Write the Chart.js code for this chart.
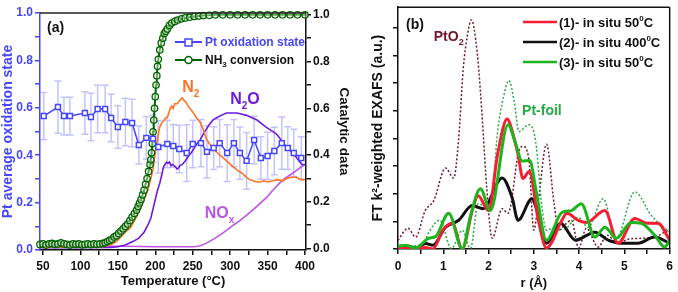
<!DOCTYPE html>
<html>
<head>
<meta charset="utf-8">
<title>Pt oxidation state and EXAFS</title>
<script src="https://cdn.jsdelivr.net/npm/chart.js"></script>
<style>
    body { margin: 0; background: #fff; }
    #left { position: absolute; left: 0; top: 0; }
    #right { position: absolute; left: 360px; top: 0; }
</style>
</head>
<body>
<canvas id="left" width="360" height="292"></canvas>
<canvas id="right" width="318" height="292"></canvas>
<script>
    // ---- panel (a) data ----
    const tempTicks = [50, 75, 100, 125, 150, 175, 200, 225, 250, 275, 300, 325, 350, 375, 400];
    const fracTicks = [0, 0.1, 0.2, 0.3, 0.4, 0.5, 0.6, 0.7, 0.8, 0.9, 1.0];

    const ptT = [51, 70, 78, 86, 106, 114, 123, 133, 141, 150, 160, 169, 178, 188, 197, 204, 216, 224, 232, 242, 250, 261, 269, 278, 286, 296, 305, 313, 322, 332, 341, 350, 359, 369, 377, 385, 395];
    const ptV = [.565, .603, .565, .565, .578, .561, .595, .595, .557, .519, .540, .536, .443, .473, .47, .435, .447, .439, .426, .409, .447, .451, .414, .43, .451, .409, .451, .409, .376, .464, .388, .397, .418, .451, .43, .409, .388];
    const ptErr = [.10, .11, .08, .08, .09, .10, .10, .10, .10, .09, .10, .10, .08, .09, .10, .11, .10, .09, .10, .12, .10, .10, .11, .09, .10, .12, .10, .11, .12, .10, .09, .10, .10, .11, .09, .10, .09];

    const nh3T = [46, 50, 54, 58, 62, 66, 70, 74, 78, 82, 86, 90, 94, 98, 102, 106, 110, 114, 118, 122, 126, 130, 133, 136, 139, 142, 145, 148, 151, 154, 157, 160, 163, 166, 169, 172, 175, 177, 179, 181, 183, 185, 187, 189, 191, 193, 194, 195, 196, 197, 198, 199, 200, 201, 202, 203, 204, 206, 208, 210, 212, 214, 216, 219, 222, 226, 230, 235, 240, 246, 252, 258, 264, 272, 280, 290, 300, 310, 320, 330, 340, 350, 360, 370, 380, 390, 400];
    const nh3V = [.018, .02, .015, .02, .022, .018, .02, .025, .02, .018, .015, .02, .018, .02, .016, .018, .02, .017, .02, .018, .02, .022, .025, .03, .035, .04, .05, .055, .065, .075, .085, .095, .105, .12, .135, .15, .165, .18, .195, .21, .23, .25, .275, .30, .33, .36, .38, .41, .45, .50, .55, .60, .65, .70, .74, .78, .81, .85, .88, .90, .92, .93, .94, .955, .965, .972, .978, .983, .987, .99, .993, .995, .997, .998, 1.0, 1.0, 1.0, 1.0, 1.0, 1.0, 1.0, 1.0, 1.0, 1.0, 1.0, 1.0, 1.0];

    const n2T = [46, 60, 80, 95, 110, 120, 130, 140, 148, 154, 160, 167, 174, 181, 186, 190, 194, 197, 199, 201, 204, 206, 209, 212, 214, 216, 218, 220, 222, 224, 226, 229, 232, 234, 236, 238, 240, 242, 246, 250, 255, 260, 264, 268, 272, 277, 283, 290, 297, 304, 310, 317, 322, 326, 331, 336, 340, 345, 350, 357, 363, 370, 376, 382, 389, 394, 400];
    const n2V = [.005, .007, .006, .008, .006, .007, .008, .015, .03, .05, .07, .09, .13, .18, .22, .25, .30, .34, .39, .43, .49, .52, .54, .55, .56, .56, .58, .60, .61, .60, .62, .62, .63, .64, .645, .635, .63, .62, .60, .585, .56, .54, .51, .47, .45, .43, .41, .39, .37, .35, .335, .32, .305, .295, .29, .285, .285, .29, .285, .29, .295, .29, .30, .305, .305, .295, .295];

    const n2oT = [46, 100, 140, 150, 160, 170, 178, 185, 190, 194, 197, 200, 203, 206, 209, 211, 213, 215, 217, 219, 221, 223, 225, 227, 229, 231, 233, 236, 240, 244, 248, 252, 256, 260, 264, 268, 272, 277, 282, 288, 295, 302, 309, 316, 322, 329, 336, 342, 348, 355, 362, 368, 374, 380, 386, 392, 396, 400];
    const n2oV = [.004, .004, .005, .008, .015, .03, .045, .07, .10, .13, .17, .21, .25, .28, .32, .35, .36, .37, .365, .37, .355, .36, .355, .35, .34, .345, .355, .36, .375, .395, .41, .43, .45, .465, .49, .51, .53, .55, .56, .57, .58, .58, .58, .575, .57, .56, .55, .535, .52, .505, .49, .465, .44, .42, .40, .375, .36, .36];

    const noxT = [46, 80, 120, 160, 200, 230, 250, 258, 265, 272, 280, 288, 296, 304, 313, 321, 330, 339, 349, 357, 366, 373, 380, 387, 393, 400];
    const noxV = [.01, .012, .01, .01, .008, .008, .008, .01, .018, .03, .045, .062, .08, .10, .12, .14, .165, .19, .22, .25, .28, .30, .315, .33, .345, .36];

    // ---- panel (b) data ----
    const rTicks = [0, 0.5, 1, 1.5, 2, 2.5, 3, 3.5, 4, 4.5, 5, 5.5, 6];
    const ftTicks = [0, 1, 2, 3, 4, 5, 6, 7, 8];

    const pto2R = [0, 0.22, 0.39, 0.6, 0.79, 1.05, 1.23, 1.34, 1.44, 1.53, 1.62, 1.75, 1.82, 1.88, 1.96, 2.08, 2.3, 2.43, 2.69, 2.76, 2.89, 3.0, 3.1, 3.28, 3.45, 3.55, 3.7, 3.83, 3.99, 4.16, 4.42, 4.62, 4.85, 5.1, 5.4, 5.7, 6.0];
    const pto2V = [0.32, 0.75, 0.43, 1.39, 1.75, 2.93, 2.57, 4.0, 6.5, 7.7, 8.29, 7.1, 5.7, 4.25, 2.2, 0.39, 1.46, 1.29, 3.64, 3.71, 3.25, 0.68, 1.75, 3.79, 1.6, 0.68, 0.9, 1.04, 0.04, 0.75, 0.07, 0.5, 0.21, 0.36, 0.39, 0.46, 0.71];

    const foilR = [0, 0.3, 0.55, 0.68, 0.92, 1.18, 1.42, 1.6, 1.77, 1.9, 2.04, 2.2, 2.33, 2.45, 2.57, 2.67, 2.89, 3.04, 3.18, 3.28, 3.48, 3.65, 3.98, 4.2, 4.53, 4.82, 5.23, 5.6, 6.0];
    const foilV = [0.05, 0.1, 0.2, 0.6, 1.04, 0.02, 0.68, 0.02, 1.64, 1.55, 1.4, 4.25, 5.5, 6.1, 5.3, 4.25, 4.5, 3.9, 1.5, 0.68, 0.79, 0.7, 1.14, 0.79, 1.82, 0.39, 2.07, 1.2, 0.6];

    const s1R = [0, 0.18, 0.39, 0.6, 0.77, 0.99, 1.2, 1.42, 1.64, 1.77, 2.0, 2.2, 2.41, 2.55, 2.65, 2.76, 2.9, 3.1, 3.28, 3.62, 3.73, 3.98, 4.16, 4.57, 4.86, 5.23, 5.52, 5.74, 6.0];
    const s1V = [0.02, 0.05, 0.0, 0.05, 0.0, 0.68, 0.93, 0.0, 1.39, 1.93, 1.39, 3.43, 4.7, 4.1, 3.43, 2.55, 2.8, 1.04, 0.04, 1.04, 1.29, 1.04, 0.96, 1.39, 0.21, 1.1, 0.93, 0.93, 0.32];

    const s2R = [0, 0.18, 0.39, 0.61, 0.77, 1.05, 1.34, 1.64, 1.88, 2.3, 2.52, 2.65, 2.96, 3.07, 3.28, 3.59, 3.92, 4.35, 4.64, 4.93, 5.3, 5.67, 6.0];
    const s2V = [0.0, 0.1, 0.04, 0.2, 0.14, 0.79, 1.04, 1.57, 1.46, 2.57, 1.86, 1.04, 1.82, 1.39, 0.21, 0.93, 0.32, 0.61, 0.32, 0.21, 0.21, 0.43, 0.21];

    const s3R = [0, 0.18, 0.39, 0.68, 0.83, 1.12, 1.42, 1.6, 1.82, 2.04, 2.43, 2.6, 2.74, 2.91, 3.04, 3.28, 3.62, 3.83, 4.05, 4.35, 4.57, 4.82, 5.15, 5.37, 5.67, 5.89, 6.0];
    const s3V = [0.1, 0.14, 0.04, 0.39, 0.45, 1.29, 0.0, 1.2, 2.18, 1.39, 4.5, 3.8, 3.18, 3.2, 2.2, 0.32, 1.32, 1.39, 1.64, 0.43, 0.79, 0.39, 0.96, 0.93, 0.5, 0.07, 0.32];

    const FONT = "'Liberation Sans', Arial, sans-serif";
    const BLUE = 'rgb(70,70,255)';
    const DKGREEN = 'rgb(0,100,0)';
    const ORANGE = 'rgb(255,115,35)';
    const PURPLE = 'rgb(110,25,220)';
    const MAGENTA = 'rgb(190,85,230)';
    const INK = '#111';

    Chart.defaults.font.family = FONT;
    Chart.defaults.font.weight = 'bold';

    const pts = (xs, ys) => xs.map((x, i) => ({x: x, y: ys[i]}));
    const asTicks = arr => arr.map(v => ({value: v}));

    // draws a string built of pieces: [text, size, dy]
    function drawText(ctx, x, y, parts, color) {
        ctx.save();
        ctx.fillStyle = color;
        ctx.textBaseline = 'alphabetic';
        ctx.textAlign = 'left';
        parts.forEach(p => {
            ctx.font = 'bold ' + p[1] + 'px ' + FONT;
            ctx.fillText(p[0], x, y + (p[2] || 0));
            x += ctx.measureText(p[0]).width;
        });
        ctx.restore();
    }

    function line(ctx, x1, y1, x2, y2, color, w, dash) {
        ctx.save();
        ctx.strokeStyle = color;
        ctx.lineWidth = w;
        ctx.setLineDash(dash || []);
        ctx.beginPath();
        ctx.moveTo(x1, y1);
        ctx.lineTo(x2, y2);
        ctx.stroke();
        ctx.restore();
    }

    const errorBars = {
        id: 'errorBars',
        beforeDatasetsDraw(chart) {
            const ctx = chart.ctx;
            const y = chart.scales.y;
            const meta = chart.getDatasetMeta(0);
            ctx.save();
            ctx.strokeStyle = 'rgba(135,135,255,0.5)';
            ctx.lineWidth = 1.5;
            meta.data.forEach((p, i) => {
                const top = y.getPixelForValue(ptV[i] + ptErr[i]);
                const bot = y.getPixelForValue(ptV[i] - ptErr[i]);
                ctx.beginPath();
                ctx.moveTo(p.x, top); ctx.lineTo(p.x, bot);
                ctx.moveTo(p.x - 3.5, top); ctx.lineTo(p.x + 3.5, top);
                ctx.moveTo(p.x - 3.5, bot); ctx.lineTo(p.x + 3.5, bot);
                ctx.stroke();
            });
            ctx.restore();
        }
    };

    const leftDecor = {
        id: 'leftDecor',
        afterDraw(chart) {
            const ctx = chart.ctx;
            const a = chart.chartArea;
            const x = chart.scales.x, y2 = chart.scales.y2;
            line(ctx, a.left, a.top, a.right, a.top, '#222', 1.5);

            drawText(ctx, a.left + 7, a.top + 19, [['(a)', 14]], INK);

            // legend
            line(ctx, 175, 42, 202, 42, BLUE, 2);
            ctx.save();
            ctx.fillStyle = '#fff'; ctx.strokeStyle = BLUE; ctx.lineWidth = 1.5;
            ctx.fillRect(185, 39, 7, 7); ctx.strokeRect(185, 39, 7, 7);
            ctx.restore();
            drawText(ctx, 205, 46, [['Pt oxidation state', 12]], BLUE);

            line(ctx, 175, 60, 202, 60, DKGREEN, 2);
            ctx.save();
            ctx.fillStyle = '#fff'; ctx.strokeStyle = DKGREEN; ctx.lineWidth = 1.5;
            ctx.beginPath(); ctx.arc(188.5, 60, 3.5, 0, Math.PI * 2); ctx.fill(); ctx.stroke();
            ctx.restore();
            drawText(ctx, 205, 64, [['NH', 12], ['3', 8, 3], [' conversion', 12]], INK);

            // curve labels
            drawText(ctx, x.getPixelForValue(236), y2.getPixelForValue(0.67), [['N', 16], ['2', 10, 5]], ORANGE);
            drawText(ctx, x.getPixelForValue(300), y2.getPixelForValue(0.62), [['N', 16], ['2', 10, 5], ['O', 16]], PURPLE);
            drawText(ctx, x.getPixelForValue(266), y2.getPixelForValue(0.13), [['NO', 16], ['x', 10, 5]], MAGENTA);
        }
    };

    const rightDecor = {
        id: 'rightDecor',
        afterDraw(chart) {
            const ctx = chart.ctx;
            const a = chart.chartArea;
            const x = chart.scales.x, y = chart.scales.y;
            line(ctx, a.left, a.top, a.right, a.top, INK, 1.5);
            line(ctx, a.right, a.top, a.right, a.bottom, INK, 1.5);

            drawText(ctx, a.left + 8, a.top + 22, [['(b)', 14]], INK);

            const rows = [
                ['(1)- in situ 50', 'rgb(245,30,50)', 22],
                ['(2)- in situ 400', INK, 42],
                ['(3)- in situ 50', 'rgb(30,180,30)', 62]
            ];
            rows.forEach(r => {
                line(ctx, 163, r[2], 197, r[2], r[1], 2.5);
                drawText(ctx, 199, r[2] + 5, [[r[0], 13], ['0', 8, -6], ['C', 13]], INK);
            });

            drawText(ctx, x.getPixelForValue(0.79), y.getPixelForValue(7.54), [['PtO', 14], ['2', 9, 4]], 'rgb(110,25,40)');
            drawText(ctx, x.getPixelForValue(2.74), y.getPixelForValue(4.84), [['Pt-foil', 14]], 'rgb(40,170,70)');
        }
    };

    const tenths = v => Math.round(v * 10) % 2 === 0 ? v.toFixed(1) : '';

    new Chart(document.getElementById('left'), {
        type: 'line',
        data: {
            datasets: [
                {label: 'Pt oxidation state', data: pts(ptT, ptV), yAxisID: 'y', borderColor: BLUE, borderWidth: 1.5,
                    pointStyle: 'rect', pointRadius: 3.5, pointBackgroundColor: '#fff', pointBorderColor: BLUE, pointBorderWidth: 1.5, clip: false},
                {label: 'NH3 conversion', data: pts(nh3T, nh3V), yAxisID: 'y2', borderColor: DKGREEN, borderWidth: 2,
                    pointRadius: 3.2, pointBackgroundColor: 'rgba(255,255,240,0.4)', pointBorderColor: DKGREEN, pointBorderWidth: 1.3, clip: false},
                {label: 'N2', data: pts(n2T, n2V), yAxisID: 'y2', borderColor: ORANGE, borderWidth: 1.6, pointRadius: 0, clip: false},
                {label: 'N2O', data: pts(n2oT, n2oV), yAxisID: 'y2', borderColor: PURPLE, borderWidth: 1.6, pointRadius: 0, clip: false},
                {label: 'NOx', data: pts(noxT, noxV), yAxisID: 'y2', borderColor: MAGENTA, borderWidth: 1.6, pointRadius: 0, clip: false}
            ]
        },
        options: {
            responsive: false,
            animation: false,
            devicePixelRatio: 1,
            layout: {padding: {top: 13, left: 0, right: 0, bottom: 0}},
            plugins: {legend: {display: false}, tooltip: {enabled: false}},
            scales: {
                x: {
                    type: 'linear', min: 46, max: 401.3,
                    afterFit: s => { s.height = 42; },
                    afterBuildTicks: s => { s.ticks = asTicks(tempTicks); },
                    ticks: {callback: v => v % 50 === 0 ? v : '', color: INK, font: {size: 12, weight: 'bold'}, padding: 4, maxRotation: 0, autoSkip: false},
                    grid: {drawOnChartArea: false, tickLength: 5, color: INK, lineWidth: 1.5},
                    border: {color: INK, width: 1.5},
                    title: {display: true, text: 'Temperature (°C)', color: INK, font: {size: 13, weight: 'bold'}, padding: {top: 0, bottom: 3}}
                },
                y: {
                    position: 'left', min: 0, max: 1.0,
                    afterFit: s => { s.width = 40; },
                    afterBuildTicks: s => { s.ticks = asTicks(fracTicks); },
                    ticks: {callback: tenths, color: BLUE, font: {size: 12, weight: 'bold'}, padding: 2, autoSkip: false},
                    grid: {drawOnChartArea: false, tickLength: 5, color: BLUE, lineWidth: 1.5},
                    border: {color: BLUE, width: 1.5},
                    title: {display: true, text: 'Pt average oxidation state', color: BLUE, font: {size: 14, weight: 'bold'}, padding: {top: 0, bottom: 0}}
                },
                y2: {
                    position: 'right', min: -0.006, max: 1.008,
                    afterFit: s => { s.width = 54; },
                    afterBuildTicks: s => { s.ticks = asTicks(fracTicks); },
                    ticks: {callback: tenths, color: INK, font: {size: 12, weight: 'bold'}, padding: 2, autoSkip: false},
                    grid: {drawOnChartArea: false, tickLength: 5, color: INK, lineWidth: 1.5},
                    border: {color: INK, width: 1.5},
                    title: {display: true, text: 'Catalytic data', color: INK, font: {size: 13.5, weight: 'bold'}, padding: {top: 8, bottom: 0}}
                }
            }
        },
        plugins: [errorBars, leftDecor]
    });

    new Chart(document.getElementById('right'), {
        type: 'line',
        data: {
            datasets: [
                {label: '(3)- in situ 50°C', data: pts(s3R, s3V), borderColor: 'rgb(30,180,30)', borderWidth: 3, pointRadius: 0, cubicInterpolationMode: 'monotone'},
                {label: '(1)- in situ 50°C', data: pts(s1R, s1V), borderColor: 'rgb(245,30,50)', borderWidth: 3, pointRadius: 0, cubicInterpolationMode: 'monotone'},
                {label: '(2)- in situ 400°C', data: pts(s2R, s2V), borderColor: INK, borderWidth: 3, pointRadius: 0, cubicInterpolationMode: 'monotone'},
                {label: 'Pt-foil', data: pts(foilR, foilV), borderColor: 'rgb(40,170,70)', borderWidth: 1.5, borderDash: [2, 2], pointRadius: 0, cubicInterpolationMode: 'monotone'},
                {label: 'PtO2', data: pts(pto2R, pto2V), borderColor: 'rgb(110,25,40)', borderWidth: 1.5, borderDash: [2, 2], pointRadius: 0, cubicInterpolationMode: 'monotone'}
            ]
        },
        options: {
            responsive: false,
            animation: false,
            devicePixelRatio: 1,
            layout: {padding: {top: 3, left: 0, right: 6, bottom: 0}},
            plugins: {legend: {display: false}, tooltip: {enabled: false}},
            scales: {
                x: {
                    type: 'linear', min: 0, max: 6,
                    afterFit: s => { s.height = 43; },
                    afterBuildTicks: s => { s.ticks = asTicks(rTicks); },
                    ticks: {callback: v => Number.isInteger(v) ? v : '', color: INK, font: {size: 12, weight: 'bold'}, padding: 5, maxRotation: 0, autoSkip: false},
                    grid: {drawOnChartArea: false, tickLength: 5, color: INK, lineWidth: 1.5},
                    border: {color: INK, width: 1.5},
                    title: {display: true, text: 'r (Å)', color: INK, font: {size: 13, weight: 'bold'}, padding: {top: 0, bottom: 1}}
                },
                y: {
                    min: 0, max: 8.75,
                    afterFit: s => { s.width = 38; },
                    afterBuildTicks: s => { s.ticks = asTicks(ftTicks); },
                    ticks: {callback: () => '', padding: 0},
                    grid: {drawOnChartArea: false, tickLength: 5, color: INK, lineWidth: 1.5},
                    border: {color: INK, width: 1.5},
                    title: {display: true, text: 'FT k²-weighted EXAFS (a.u.)', color: INK, font: {size: 14, weight: 'bold'}, padding: {top: 9.6, bottom: 0}}
                }
            }
        },
        plugins: [rightDecor]
    });
</script>
</body>
</html>
